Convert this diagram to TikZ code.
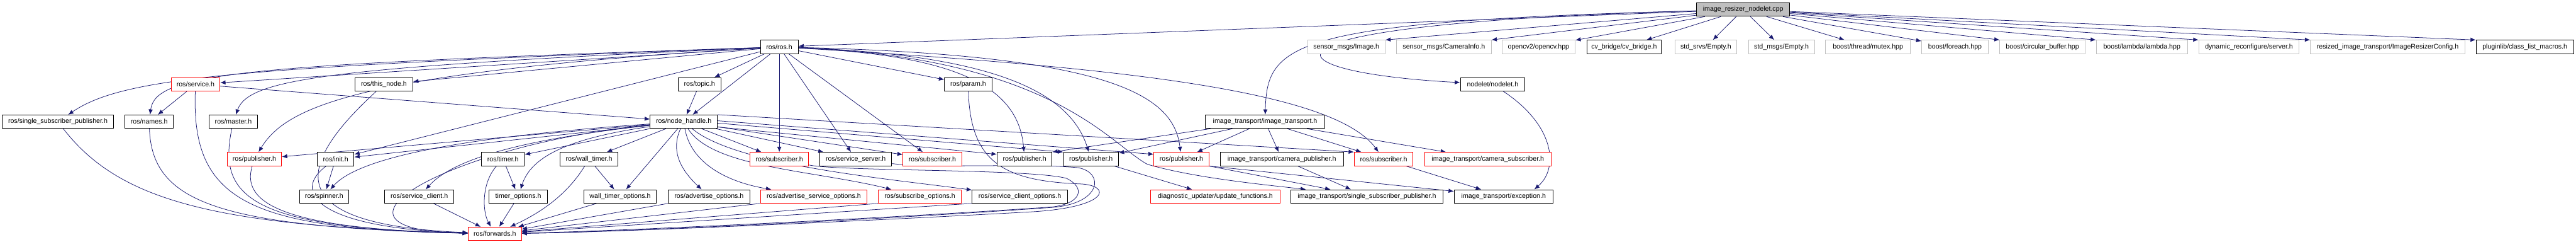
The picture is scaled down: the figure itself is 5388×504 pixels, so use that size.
\documentclass[tikz,border=0pt]{standalone}
\usepackage{fontspec}
\setmainfont{Liberation Sans}
\usetikzlibrary{arrows.meta,backgrounds}
\definecolor{doxblue}{HTML}{191970}
\definecolor{doxgray}{HTML}{BFBFBF}

\begin{document}
\begin{tikzpicture}[x=1pt,y=-1pt,
  hdr/.style={draw=black,line width=1.3pt,fill=white,minimum height=28pt,inner sep=0pt,font=\fontsize{14pt}{16pt}\selectfont},
  exthdr/.style={hdr,draw=doxgray},
  cuthdr/.style={hdr,draw=red},
  dep/.style={draw=doxblue,line width=1pt,-{Latex[length=11pt,width=9pt]}}]
  \useasboundingbox (0,0) rectangle (5388,504);

  \node[hdr,fill=doxgray,minimum width=195pt] (main) at (3646,20) {image\_resizer\_nodelet.cpp};

  \node[hdr,minimum width=79pt] (ros) at (1630,98) {ros/ros.h};
  \node[exthdr,minimum width=162pt] (smimg) at (2816,98) {sensor\_msgs/Image.h};
  \node[exthdr,minimum width=198pt] (smcam) at (3020,98) {sensor\_msgs/CameraInfo.h};
  \node[exthdr,minimum width=153pt] (ocv) at (3218,98) {opencv2/opencv.hpp};
  \node[hdr,minimum width=156pt] (cvb) at (3397,98) {cv\_bridge/cv\_bridge.h};
  \node[exthdr,minimum width=130pt] (srvempty) at (3568,98) {std\_srvs/Empty.h};
  \node[exthdr,minimum width=138pt] (msgempty) at (3726,98) {std\_msgs/Empty.h};
  \node[exthdr,minimum width=177pt] (mutex) at (3907,98) {boost/thread/mutex.hpp};
  \node[exthdr,minimum width=139pt] (bforeach) at (4089,98) {boost/foreach.hpp};
  \node[exthdr,minimum width=178pt] (cbuf) at (4272,98) {boost/circular\_buffer.hpp};
  \node[exthdr,minimum width=191pt] (lambda) at (4480,98) {boost/lambda/lambda.hpp};
  \node[exthdr,minimum width=210pt] (dynserver) at (4704,98) {dynamic\_reconfigure/server.h};
  \node[exthdr,minimum width=323pt] (resizecfg) at (4994,98) {resized\_image\_transport/ImageResizerConfig.h};
  \node[hdr,minimum width=204pt] (classlist) at (5281,98) {pluginlib/class\_list\_macros.h};

  \node[cuthdr,minimum width=102pt] (service) at (409,176) {ros/service.h};
  \node[hdr,minimum width=121pt] (thisnode) at (803,176) {ros/this\_node.h};
  \node[hdr,minimum width=89pt] (topic) at (1463,176) {ros/topic.h};
  \node[hdr,minimum width=99pt] (param) at (2025,176) {ros/param.h};
  \node[hdr,minimum width=135pt] (nodelet) at (3122,176) {nodelet/nodelet.h};

  \node[hdr,minimum width=232pt] (ssp) at (121,254) {ros/single\_subscriber\_publisher.h};
  \node[hdr,minimum width=102pt] (names) at (312,254) {ros/names.h};
  \node[hdr,minimum width=102pt] (master) at (488,254) {ros/master.h};
  \node[hdr,minimum width=140pt] (nodehandle) at (1430,254) {ros/node\_handle.h};
  \node[hdr,minimum width=251pt] (imgtrans) at (2646,254) {image\_transport/image\_transport.h};

  \node[cuthdr,minimum width=114pt] (pubA) at (532,332) {ros/publisher.h};
  \node[hdr,minimum width=77pt] (init) at (702,332) {ros/init.h};
  \node[hdr,minimum width=90pt] (timer) at (1052,332) {ros/timer.h};
  \node[hdr,minimum width=122pt] (walltimer) at (1232,332) {ros/wall\_timer.h};
  \node[cuthdr,minimum width=123pt] (subA) at (1630,332) {ros/subscriber.h};
  \node[hdr,minimum width=150pt] (srvserver) at (1790,332) {ros/service\_server.h};
  \node[cuthdr,minimum width=123pt] (subB) at (1950,332) {ros/subscriber.h};
  \node[hdr,minimum width=115pt] (pubB) at (2143,332) {ros/publisher.h};
  \node[hdr,minimum width=115pt] (pubC) at (2282,332) {ros/publisher.h};
  \node[cuthdr,minimum width=115pt] (pubD) at (2471,332) {ros/publisher.h};
  \node[hdr,minimum width=258pt] (campub) at (2681,332) {image\_transport/camera\_publisher.h};
  \node[cuthdr,minimum width=123pt] (subC) at (2894,332) {ros/subscriber.h};
  \node[cuthdr,minimum width=265pt] (camsub) at (3112,332) {image\_transport/camera\_subscriber.h};

  \node[hdr,minimum width=103pt] (spinner) at (678,410) {ros/spinner.h};
  \node[hdr,minimum width=144pt] (srvclient) at (877,410) {ros/service\_client.h};
  \node[hdr,minimum width=123pt] (timeropts) at (1084,410) {timer\_options.h};
  \node[hdr,minimum width=152pt] (walltimeropts) at (1297,410) {wall\_timer\_options.h};
  \node[hdr,minimum width=170pt] (advopts) at (1483,410) {ros/advertise\_options.h};
  \node[cuthdr,minimum width=223pt] (advsrvopts) at (1702,410) {ros/advertise\_service\_options.h};
  \node[cuthdr,minimum width=174pt] (subopts) at (1924,410) {ros/subscribe\_options.h};
  \node[hdr,minimum width=199pt] (clientopts) at (2133,410) {ros/service\_client\_options.h};
  \node[cuthdr,minimum width=270pt] (diagfun) at (2542,410) {diagnostic\_updater/update\_functions.h};
  \node[hdr,minimum width=319pt] (itssp) at (2859,410) {image\_transport/single\_subscriber\_publisher.h};
  \node[hdr,minimum width=207pt] (itexc) at (3145,410) {image\_transport/exception.h};

  \node[cuthdr,minimum width=111pt] (forwards) at (1035,488) {ros/forwards.h};

  \begin{scope}[on background layer]
  % includes of the .cpp file
  \draw[dep] (main) -- (ros);
  \draw[dep] (main) -- (smimg.north east);
  \draw[dep] (main) -- (smcam.north east);
  \draw[dep] (main) -- (ocv);
  \draw[dep] (main) -- (cvb);
  \draw[dep] (main) -- (srvempty);
  \draw[dep] (main) -- (msgempty);
  \draw[dep] (main) -- (mutex);
  \draw[dep] (main) -- (bforeach);
  \draw[dep] (main) -- (cbuf.north west);
  \draw[dep] (main) -- (lambda.north west);
  \draw[dep] (main) -- (dynserver.north west);
  \draw[dep] (main) -- (resizecfg.north west);
  \draw[dep] (main) -- (classlist.north west);
  \draw[dep] (main) .. controls (2700,45) and (2650,90) .. (imgtrans);
  \draw[dep] (main) .. controls (2560,50) and (2640,150) .. (nodelet);

  \draw[dep] (ros) .. controls (500,140) and (260,160) .. (ssp);
  \draw[dep] (ros) .. controls (520,135) and (325,150) .. (names);
  \draw[dep] (ros) -- (service);
  \draw[dep] (ros) .. controls (680,140) and (520,165) .. (master);
  \draw[dep] (ros) -- (thisnode);
  \draw[dep] (ros) .. controls (760,150) and (600,220) .. (pubA);
  \draw[dep] (ros) -- (init);
  \draw[dep] (ros) -- (topic);
  \draw[dep] (ros) -- (nodehandle);
  \draw[dep] (ros) -- (subA);
  \draw[dep] (ros) -- (srvserver);
  \draw[dep] (ros) -- (subB);
  \draw[dep] (ros) -- (param);
  \draw[dep] (ros) .. controls (2000,115) and (2130,180) .. (pubB);
  \draw[dep] (ros) .. controls (2100,115) and (2240,200) .. (pubC);
  \draw[dep] (ros) .. controls (2330,115) and (2455,200) .. (pubD);
  \draw[dep] (ros) .. controls (2200,120) and (2320,300) .. (2400,343) .. controls (2500,372) and (2650,386) .. (itssp);
  \draw[dep] (ros) .. controls (2350,140) and (2790,190) .. (subC);

  \draw[dep] (service) -- (names);
  \draw[dep] (service) -- (nodehandle);
  \draw[dep] (service) .. controls (400,420) and (520,478) .. (forwards);
  \draw[dep] (ssp) .. controls (250,420) and (450,472) .. (forwards);
  \draw[dep] (names) .. controls (318,420) and (450,474) .. (forwards);
  \draw[dep] (master) .. controls (455,410) and (520,476) .. (forwards);
  \draw[dep] (pubA) .. controls (505,420) and (580,478) .. (forwards);
  \draw[dep] (thisnode) .. controls (590,370) and (620,470) .. (forwards);
  \draw[dep] (init) .. controls (610,400) and (660,476) .. (forwards);
  \draw[dep] (init) -- (spinner);
  \draw[dep] (topic) -- (nodehandle);

  \draw[dep] (nodehandle) -- (pubA);
  \draw[dep] (nodehandle) -- (init);
  \draw[dep] (nodehandle) .. controls (900,290) and (740,340) .. (spinner);
  \draw[dep] (nodehandle) .. controls (1100,290) and (950,330) .. (srvclient);
  \draw[dep] (nodehandle) .. controls (950,300) and (620,480) .. (forwards);
  \draw[dep] (nodehandle) -- (timer);
  \draw[dep] (nodehandle) .. controls (1180,290) and (1110,330) .. (timeropts);
  \draw[dep] (nodehandle) -- (walltimer);
  \draw[dep] (nodehandle) -- (walltimeropts);
  \draw[dep] (nodehandle) .. controls (1400,320) and (1430,360) .. (advopts);
  \draw[dep] (nodehandle) .. controls (1445,340) and (1520,380) .. (advsrvopts);
  \draw[dep] (nodehandle) -- (subA);
  \draw[dep] (nodehandle) .. controls (1490,350) and (1700,355) .. (subopts);
  \draw[dep] (nodehandle) .. controls (1540,345) and (1850,372) .. (clientopts);
  \draw[dep] (nodehandle) -- (srvserver);
  \draw[dep] (nodehandle) -- (subB);
  \draw[dep] ([yshift=-11pt]nodehandle.east) -- ([yshift=10pt]pubB.west);
  \draw[dep] ([yshift=-3pt]nodehandle.east) -- (pubC.north west);
  \draw[dep] ([yshift=2pt]nodehandle.east) -- ([yshift=10pt]pubD.west);
  \draw[dep] (nodehandle.north east) -- (subC.north west);

  \draw[dep] ([xshift=12pt]imgtrans.south west) -- (pubB.north east);
  \draw[dep] (imgtrans) -- (pubC);
  \draw[dep] (imgtrans) -- (pubD);
  \draw[dep] (imgtrans) -- (campub);
  \draw[dep] (imgtrans) -- (subC);
  \draw[dep] (imgtrans) -- (camsub);

  \draw[dep] (timer) -- (timeropts);
  \draw[dep] (timer) .. controls (1008,380) and (1008,440) .. (forwards);
  \draw[dep] (timeropts) -- (forwards);
  \draw[dep] (walltimer) -- (walltimeropts);
  \draw[dep] (walltimer) .. controls (1190,400) and (1140,440) .. (forwards);
  \draw[dep] (walltimeropts) -- (forwards);
  \draw[dep] (srvclient) -- (forwards);
  \draw[dep] (advopts.south west) -- (forwards);
  \draw[dep] (advsrvopts.south west) -- (forwards);
  \draw[dep] (subopts.south west) -- (forwards);
  \draw[dep] (clientopts.south west) -- (forwards);

  % the three long loops back to ros/forwards.h
  \draw[dep] (param) .. controls (2030,340) and (2100,378) .. (2262,384) .. controls (2325,388) and (2320,432) .. (2160,442) .. controls (1800,462) and (1300,484) .. (forwards);
  \draw[dep] (srvserver) .. controls (1950,352) and (2150,340) .. (2255,350) .. controls (2310,360) and (2305,425) .. (2200,433) .. controls (1850,458) and (1300,484) .. (forwards);
  \draw[dep] (subA) .. controls (1760,358) and (2150,352) .. (2230,372) .. controls (2272,392) and (2262,425) .. (2200,432) .. controls (1850,456) and (1300,482) .. (forwards);

  \draw[dep] (pubC) -- (diagfun);
  \draw[dep] (pubD.south east) -- (itssp);
  \draw[dep] (pubD.south east) -- (itexc);
  \draw[dep] (campub) -- (itssp);
  \draw[dep] (subC) -- (itexc);
  \draw[dep] (nodelet) .. controls (3250,260) and (3262,350) .. ([xshift=-40pt]itexc.north east);
  \end{scope}
\end{tikzpicture}
\end{document}
